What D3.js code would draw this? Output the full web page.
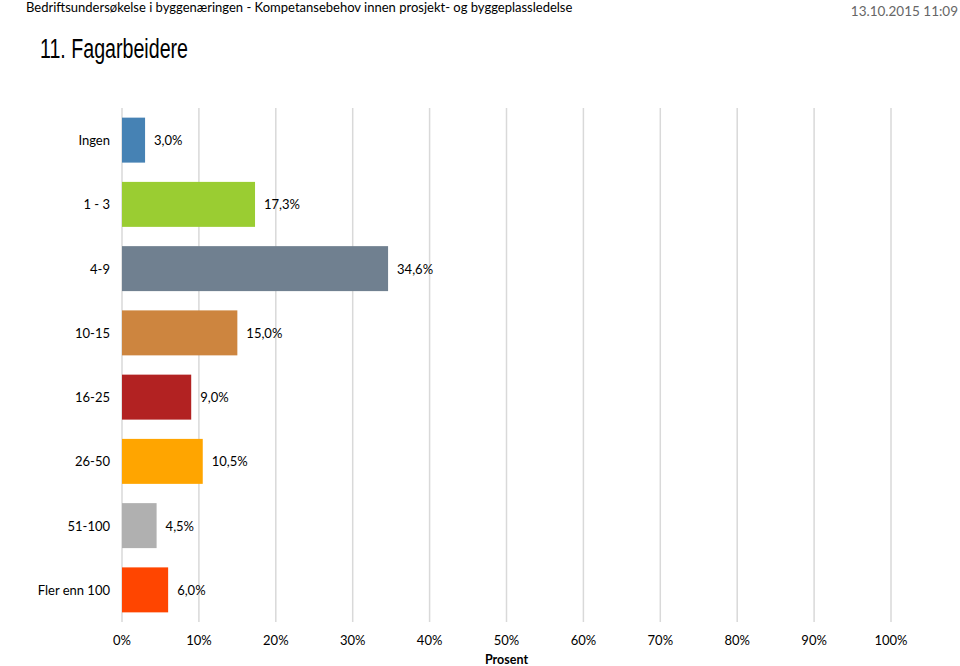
<!DOCTYPE html>
<html>
<head>
<meta charset="utf-8">
<style type="text/css">
    body { margin: 0; background: #fff; }
    text { font-family: Lato, "Open Sans", sans-serif; }
</style>
</head>
<body>
<div id="canvas"></div>
<script src="https://cdn.jsdelivr.net/npm/d3@7/dist/d3.min.js"></script>
<script type="text/javascript">
var categories = ["Ingen", "1 - 3", "4-9", "10-15", "16-25", "26-50", "51-100", "Fler enn 100"];
var values = [3.0, 17.3, 34.6, 15.0, 9.0, 10.5, 4.5, 6.0];
var colors = ["#4682B4", "#9ACD32", "#708090", "#CD853F", "#B22222", "#FFA500", "#B0B0B0", "#FF4500"];
var ticks = [0, 10, 20, 30, 40, 50, 60, 70, 80, 90, 100];

(function () {
    var width = 960, height = 666;
    var plotLeft = 122, plotRight = 891, plotTop = 108, plotBottom = 622;

    var svg = d3.select("#canvas").append("svg")
        .attr("width", width)
        .attr("height", height);

    // header
    svg.append("text")
        .attr("x", 26).attr("y", 12)
        .attr("font-size", 13)
        .attr("fill", "#000")
        .text("Bedriftsundersøkelse i byggenæringen - Kompetansebehov innen prosjekt- og byggeplassledelse");
    svg.append("text")
        .attr("x", 958).attr("y", 16)
        .attr("text-anchor", "end")
        .attr("font-size", 13.5)
        .attr("fill", "#666")
        .text("13.10.2015 11:09");
    svg.append("text")
        .attr("x", 40).attr("y", 58)
        .attr("font-size", 27)
        .attr("textLength", 148)
        .attr("lengthAdjust", "spacingAndGlyphs")
        .style("font-family", "'Liberation Sans Narrow', sans-serif")
        .attr("fill", "#000")
        .text("11. Fagarbeidere");

    var x = d3.scaleLinear().domain([0, 100]).range([plotLeft, plotRight]);
    var y = d3.scaleBand().domain(categories).range([plotTop, plotBottom]).paddingInner(0.3).paddingOuter(0.15);

    // gridlines
    svg.append("g").selectAll("line")
        .data(ticks)
        .enter().append("line")
        .attr("x1", function (d) { return x(d); })
        .attr("x2", function (d) { return x(d); })
        .attr("y1", plotTop)
        .attr("y2", plotBottom)
        .attr("stroke", "#d9d9d9")
        .attr("stroke-width", 1.5);

    // x axis labels
    svg.append("g").selectAll("text")
        .data(ticks)
        .enter().append("text")
        .attr("x", function (d) { return x(d); })
        .attr("y", 645)
        .attr("text-anchor", "middle")
        .attr("font-size", 13)
        .text(function (d) { return d + "%"; });

    svg.append("text")
        .attr("x", x(50)).attr("y", 664)
        .attr("text-anchor", "middle")
        .attr("font-size", 12.5)
        .attr("font-weight", "bold")
        .text("Prosent");

    // bars
    svg.append("g").selectAll("rect")
        .data(values)
        .enter().append("rect")
        .attr("x", x(0))
        .attr("y", function (d, i) { return y(categories[i]); })
        .attr("width", function (d) { return x(d) - x(0); })
        .attr("height", y.bandwidth())
        .attr("fill", function (d, i) { return colors[i]; });

    // category labels
    svg.append("g").selectAll("text")
        .data(categories)
        .enter().append("text")
        .attr("x", 110)
        .attr("y", function (d) { return y(d) + y.bandwidth() / 2 + 5; })
        .attr("text-anchor", "end")
        .attr("font-size", 13)
        .text(function (d) { return d; });

    // value labels
    svg.append("g").selectAll("text")
        .data(values)
        .enter().append("text")
        .attr("x", function (d) { return x(d) + 9; })
        .attr("y", function (d, i) { return y(categories[i]) + y.bandwidth() / 2 + 5; })
        .attr("font-size", 13)
        .text(function (d) { return d.toFixed(1).replace(".", ",") + "%"; });
})();
</script>
</body>
</html>
